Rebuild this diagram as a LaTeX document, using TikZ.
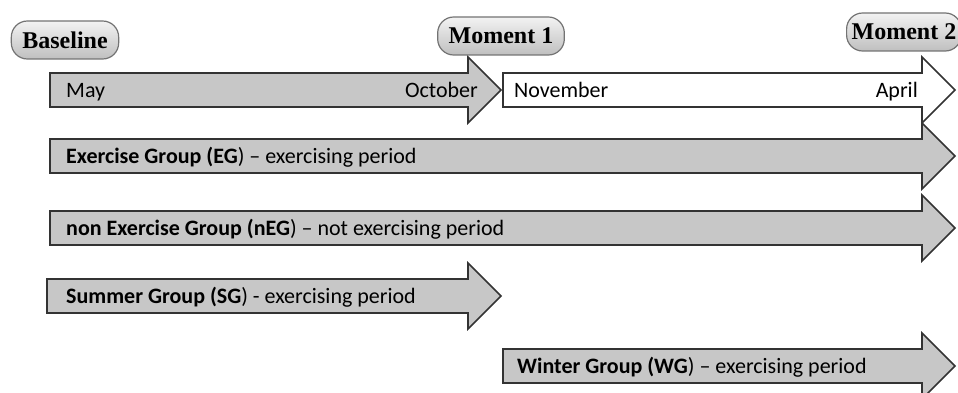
\documentclass[tikz,border=0pt]{standalone}
\usepackage{fontspec}
\setmainfont{Carlito}
\newfontfamily\pillfont{Liberation Serif}
\usetikzlibrary{positioning}

% block arrow: #2 start x, #3 head base x, #4 centre y
\newcommand{\blockarrow}[4][grayarrow]{%
  \draw[#1] (#2,#4-17) -- (#3,#4-17) -- (#3,#4-33) -- (#3+33,#4)
    -- (#3,#4+33) -- (#3,#4+17) -- (#2,#4+17) -- cycle;}

\begin{document}
\begin{tikzpicture}[x=1pt,y=-1pt,
  every node/.style={font=\fontsize{22}{26}\selectfont, inner sep=0pt},
  grayarrow/.style={draw=black!80, line width=1.6pt, fill=black!22, line join=miter},
  whitearrow/.style={grayarrow, fill=white},
  moment/.style={draw=black!55, line width=1.2pt, rounded corners=16pt,
    top color=black!5, bottom color=black!25, minimum height=38pt,
    inner xsep=11pt, font=\pillfont\bfseries\fontsize{24}{27}\selectfont}]
  \useasboundingbox (0,0) rectangle (958,393);

  % time line
  \blockarrow{50}{468}{90}
  \blockarrow[whitearrow]{503}{922}{90}
  % groups
  \blockarrow{50}{922}{156}
  \blockarrow{50}{922}{228}
  \blockarrow{47}{468}{296}
  \blockarrow{503}{922}{366}

  \node[anchor=base west] (may) at (66,98) {May};
  \node[anchor=base east] (october) at (478,98) {October};
  \node[anchor=base west] (november) at (514,98) {November};
  \node[anchor=base east] (april) at (918,98) {April};

  \node[anchor=base west] (eg) at (66,163) {\textbf{Exercise Group (EG}) – exercising period};
  \node[anchor=base west] (neg) at (66,235) {\textbf{non Exercise Group (nEG}) – not exercising period};
  \node[anchor=base west] (sg) at (66,303) {\textbf{Summer Group (SG}) - exercising period};
  \node[anchor=base west] (wg) at (517,373) {\textbf{Winter Group (WG}) – exercising period};

  \node[moment] (baseline) at (65,40) {Baseline};
  \node[moment] (moment1) at (501,36) {Moment 1};
  \node[moment, inner xsep=5pt, anchor=west] (moment2) at (846,32) {Moment 2};
\end{tikzpicture}
\end{document}
